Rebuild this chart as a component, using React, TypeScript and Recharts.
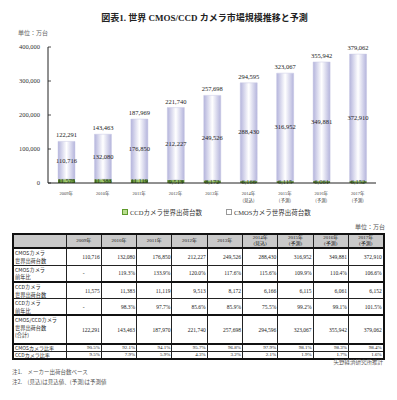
import React from 'react';
import { BarChart, Bar, XAxis, YAxis, LabelList } from 'recharts';

const years = ['2009年', '2010年', '2011年', '2012年', '2013年', '2014年', '2015年', '2016年', '2017年'];
const notes = ['', '', '', '', '', '(見込)', '(予測)', '(予測)', '(予測)'];
const cmos = [110716, 132080, 176850, 212227, 249526, 288430, 316952, 349881, 372910];
const ccd = [11575, 11383, 11119, 9513, 8172, 6166, 6115, 6061, 6152];
const totals = [122291, 143463, 187969, 221740, 257698, 294595, 323067, 355942, 379062];
const tableTotals = [122291, 143463, 187970, 221740, 257698, 294596, 323067, 355942, 379062];
const cmosGrowth = ['-', '119.3%', '133.9%', '120.0%', '117.6%', '115.6%', '109.9%', '110.4%', '106.6%'];
const ccdGrowth = ['-', '98.3%', '97.7%', '85.6%', '85.9%', '75.5%', '99.2%', '99.1%', '101.5%'];
const cmosShare = ['90.5%', '92.1%', '94.1%', '95.7%', '96.8%', '97.9%', '98.1%', '98.3%', '98.4%'];
const ccdShare = ['9.5%', '7.9%', '5.9%', '4.3%', '3.2%', '2.1%', '1.9%', '1.7%', '1.6%'];
const yTicks = [0, 50000, 100000, 150000, 200000, 250000, 300000, 350000, 400000];

const fmt = (v: number) => v.toLocaleString('en-US');

const data = years.map((y, i) => ({ year: y, ccd: ccd[i], cmos: cmos[i], total: totals[i] }));

const serif = '"Liberation Serif", "Noto Sans CJK JP", serif';
const gothic = '"Noto Sans CJK JP", sans-serif';

function YTick(props: any) {
    const { x, y, payload } = props;
    return (
        <g>
            <text x={x} y={y} dy={2} textAnchor="end" fontSize={6.5} fill="#333" fontFamily={serif}>
                {fmt(payload.value)}
            </text>
            <line x1={x + 8} x2={x + 11} y1={y} y2={y} stroke="#222" strokeWidth={0.8} />
        </g>
    );
}

function XTick(props: any) {
    const { x, y, payload } = props;
    const i = payload.index;
    return (
        <g>
            <text x={x} y={y + 4} textAnchor="middle" fontSize={4.5} fill="#444" fontFamily={serif}>
                {years[i]}
            </text>
            {notes[i] && (
                <text x={x} y={y + 11} textAnchor="middle" fontSize={4.5} fill="#444" fontFamily={gothic}>
                    {notes[i]}
                </text>
            )}
        </g>
    );
}

const rows: { label: string[]; vals: string[]; h: number; thick?: boolean; small?: boolean }[] = [
    { label: ['CMOSカメラ', '世界出荷台数'], vals: cmos.map(fmt), h: 17 },
    { label: ['CMOSカメラ', '前年比'], vals: cmosGrowth, h: 17, thick: true },
    { label: ['CCDカメラ', '世界出荷台数'], vals: ccd.map(fmt), h: 15 },
    { label: ['CCDカメラ', '前年比'], vals: ccdGrowth, h: 16, thick: true },
    { label: ['CMOS/CCDカメラ', '世界出荷台数', '(合計)'], vals: tableTotals.map(fmt), h: 29, thick: true },
    { label: ['CMOSカメラ比率'], vals: cmosShare, h: 7, small: true },
    { label: ['CCDカメラ比率'], vals: ccdShare, h: 7, small: true },
];

export default function App() {
    const cell: React.CSSProperties = {
        border: '1px solid #222',
        padding: '0 1px',
        fontFamily: serif,
        fontSize: 5.5,
        color: '#222',
    };
    return (
        <div style={{ position: 'fixed', left: 0, top: 0, width: 397, height: 400, background: '#fff', overflow: 'hidden' }}>
            <div style={{ position: 'absolute', top: 11, left: 0, width: 397, textAlign: 'center', fontFamily: serif, fontWeight: 'bold', fontSize: 9, color: '#222', paddingLeft: 12, boxSizing: 'border-box' }}>
                図表1. 世界 CMOS/CCD カメラ市場規模推移と予測
            </div>
            <div style={{ position: 'absolute', top: 28, left: 18, fontFamily: gothic, fontSize: 6, color: '#666' }}>
                単位：万台
            </div>
            <div style={{ position: 'absolute', top: 0, left: 0 }}>
                <BarChart width={397} height={205} data={data} margin={{ top: 47, right: 21, left: 0, bottom: 0 }}>
                    <defs>
                        <linearGradient id="cmosFill" x1="0" y1="0" x2="1" y2="0">
                            <stop offset="0%" stopColor="#b4b4dc" />
                            <stop offset="50%" stopColor="#ffffff" />
                            <stop offset="100%" stopColor="#b4b4dc" />
                        </linearGradient>
                        <linearGradient id="ccdFill" x1="0" y1="0" x2="1" y2="0">
                            <stop offset="0%" stopColor="#4f7f25" />
                            <stop offset="50%" stopColor="#a8d27a" />
                            <stop offset="100%" stopColor="#4f7f25" />
                        </linearGradient>
                    </defs>
                    <XAxis
                        dataKey="year"
                        height={22}
                        tickLine={false}
                        stroke="#222"
                        tick={<XTick />}
                        interval={0}
                    />
                    <YAxis
                        width={48}
                        domain={[0, 400000]}
                        ticks={yTicks}
                        tickSize={0}
                        tickMargin={8}
                        stroke="#222"
                        tick={<YTick />}
                    />
                    <Bar dataKey="ccd" stackId="a" fill="url(#ccdFill)" barSize={17} isAnimationActive={false}>
                        <LabelList dataKey="ccd" position="center" formatter={(v: any) => fmt(v)} fontSize={6.5} fill="#1e3a10" fontFamily={serif} />
                    </Bar>
                    <Bar dataKey="cmos" stackId="a" fill="url(#cmosFill)" stroke="#c8c8e4" strokeWidth={0.5} barSize={17} isAnimationActive={false}>
                        <LabelList dataKey="cmos" position="center" formatter={(v: any) => fmt(v)} fontSize={6.5} fill="#222" fontFamily={serif} />
                        <LabelList dataKey="total" position="top" offset={4} formatter={(v: any) => fmt(v)} fontSize={6.5} fill="#222" fontFamily={serif} />
                    </Bar>
                </BarChart>
            </div>
            <div style={{ position: 'absolute', top: 207, left: 122, display: 'flex', alignItems: 'center', fontFamily: gothic, fontSize: 6.5, color: '#333' }}>
                <span style={{ display: 'inline-block', width: 4, height: 4, border: '1px solid #5e9a2c', background: '#b9de8f', marginRight: 2 }} />
                <span style={{ fontFamily: serif }}>CCD</span>カメラ世界出荷台数
                <span style={{ display: 'inline-block', width: 4, height: 4, border: '1px solid #999', background: '#fff', marginLeft: 24, marginRight: 2 }} />
                <span style={{ fontFamily: serif }}>CMOS</span>カメラ世界出荷台数
            </div>
            <div style={{ position: 'absolute', top: 222, right: 12, fontFamily: gothic, fontSize: 6, color: '#555' }}>
                単位：万台
            </div>
            <table
                style={{
                    position: 'absolute',
                    top: 233,
                    left: 12,
                    width: 371,
                    borderCollapse: 'collapse',
                    tableLayout: 'fixed',
                    border: '2px solid #111',
                }}
            >
                <colgroup>
                    <col style={{ width: 53 }} />
                    {years.map(y => (
                        <col key={y} style={{ width: 35.3 }} />
                    ))}
                </colgroup>
                <tbody>
                    <tr style={{ height: 14, background: '#c9c9c9' }}>
                        <td style={{ ...cell, borderBottom: '2px solid #111' }} />
                        {years.map((y, i) => (
                            <td key={y} style={{ ...cell, textAlign: 'center', fontSize: 5, lineHeight: '6px', borderBottom: '2px solid #111' }}>
                                {y}
                                {notes[i] && <br />}
                                {notes[i]}
                            </td>
                        ))}
                    </tr>
                    {rows.map((r, ri) => (
                        <tr key={ri} style={{ height: r.h }}>
                            <td
                                style={{
                                    ...cell,
                                    fontFamily: gothic,
                                    fontSize: r.small ? 5 : 5.2,
                                    lineHeight: r.small ? '6px' : '7.5px',
                                    verticalAlign: 'top',
                                    borderBottom: r.thick ? '2px solid #111' : cell.border,
                                }}
                            >
                                {r.label.map((l, li) => (
                                    <div key={li}>{l}</div>
                                ))}
                            </td>
                            {r.vals.map((v, vi) => (
                                <td
                                    key={vi}
                                    style={{
                                        ...cell,
                                        textAlign: v === '-' ? 'center' : 'right',
                                        fontSize: r.small ? 5 : 5.5,
                                        lineHeight: '6px',
                                        borderBottom: r.thick ? '2px solid #111' : cell.border,
                                    }}
                                >
                                    {v}
                                </td>
                            ))}
                        </tr>
                    ))}
                </tbody>
            </table>
            <div style={{ position: 'absolute', top: 358, right: 14, fontFamily: gothic, fontSize: 5.5, color: '#555' }}>
                矢野経済研究所推計
            </div>
            <div style={{ position: 'absolute', top: 367, left: 12, fontFamily: gothic, fontSize: 5.5, color: '#555', lineHeight: '10px' }}>
                <div>注1.　メーカー出荷台数ベース</div>
                <div>注2.　(見込)は見込値、(予測)は予測値</div>
            </div>
        </div>
    );
}
